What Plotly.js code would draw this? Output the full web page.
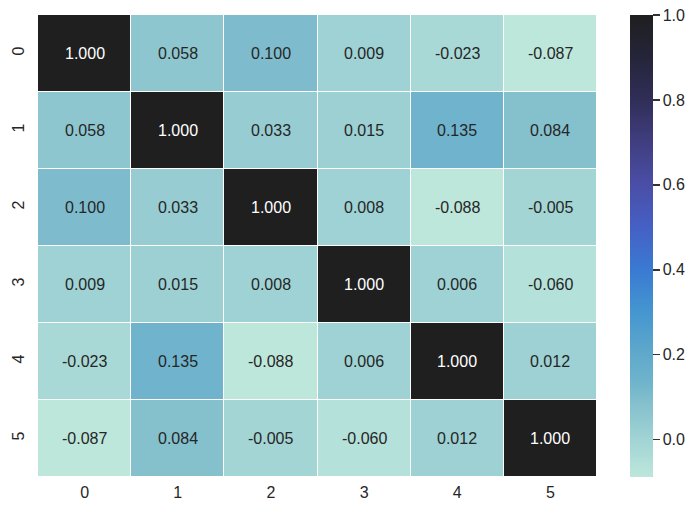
<!DOCTYPE html>
<html>
<head>
<meta charset="utf-8">
<script src="https://cdn.plot.ly/plotly-3.0.1.min.js"></script>
<style>html,body{margin:0;padding:0;background:#fff;}#chart{width:697px;height:514px;}</style>
</head>
<body>
<div id="chart"></div>
<script>
const xLabels = ['0', '1', '2', '3', '4', '5'];
const yLabels = ['0', '1', '2', '3', '4', '5'];
const row0 = [1.000, 0.058, 0.100, 0.009, -0.023, -0.087];
const row1 = [0.058, 1.000, 0.033, 0.015, 0.135, 0.084];
const row2 = [0.100, 0.033, 1.000, 0.008, -0.088, -0.005];
const row3 = [0.009, 0.015, 0.008, 1.000, 0.006, -0.060];
const row4 = [-0.023, 0.135, -0.088, 0.006, 1.000, 0.012];
const row5 = [-0.087, 0.084, -0.005, -0.060, 0.012, 1.000];
const cbTicks = [0.0, 0.2, 0.4, 0.6, 0.8, 1.0];

const z = [row0, row1, row2, row3, row4, row5];
const zmin = -0.088, zmax = 1.0;

const colorscale = [
  [0.000, '#bde7db'],
  [0.076, '#a3d5d5'],
  [0.158, '#85c0cd'],
  [0.205, '#6fb4cc'],
  [0.265, '#60a9cb'],
  [0.357, '#4596d0'],
  [0.449, '#3a7ad2'],
  [0.541, '#4560c4'],
  [0.633, '#4a4ea6'],
  [0.725, '#403e80'],
  [0.817, '#302e57'],
  [0.908, '#25253a'],
  [1.000, '#1f1f20']
];

const FONT = 'Liberation Sans, Arial, sans-serif';
const annotations = [];
z.forEach((row, i) => row.forEach((v, j) => {
  annotations.push({
    x: xLabels[j], y: yLabels[i], xref: 'x', yref: 'y',
    text: v.toFixed(3), showarrow: false,
    font: {family: FONT, size: 16,
           color: ((v - zmin) / (zmax - zmin)) > 0.6 ? '#ffffff' : '#262626'}
  });
}));

const trace = {
  type: 'heatmap',
  x: xLabels, y: yLabels, z: z,
  zmin: zmin, zmax: zmax,
  colorscale: colorscale,
  xgap: 1, ygap: 1,
  hoverinfo: 'none',
  colorbar: {
    x: 1.059, xanchor: 'left', xref: 'paper',
    y: 0.5, yanchor: 'middle', len: 1, lenmode: 'fraction',
    thickness: 23, thicknessmode: 'pixels',
    outlinewidth: 0,
    ticks: 'outside', ticklen: 7, tickwidth: 1.5, tickcolor: '#333333',
    tickvals: cbTicks, ticktext: cbTicks.map(t => t.toFixed(1)),
    tickfont: {family: FONT, size: 16, color: '#262626'},
    xpad: 0, ypad: 0
  }
};

const layout = {
  width: 697, height: 514,
  margin: {l: 38, r: 100, t: 15, b: 37},
  paper_bgcolor: '#ffffff', plot_bgcolor: '#ffffff',
  font: {family: FONT, size: 16, color: '#262626'},
  xaxis: {type: 'category', showgrid: false, zeroline: false, ticks: '', showline: false,
          tickfont: {size: 16, color: '#262626'}, ticklabelstandoff: 4},
  yaxis: {type: 'category', autorange: 'reversed', showgrid: false, zeroline: false,
          ticks: '', showline: false, tickangle: -90,
          tickfont: {size: 16, color: '#262626'}, ticklabelstandoff: 10},
  annotations: annotations,
  showlegend: false
};

Plotly.newPlot('chart', [trace], layout, {displayModeBar: false, staticPlot: true});
</script>
</body>
</html>
